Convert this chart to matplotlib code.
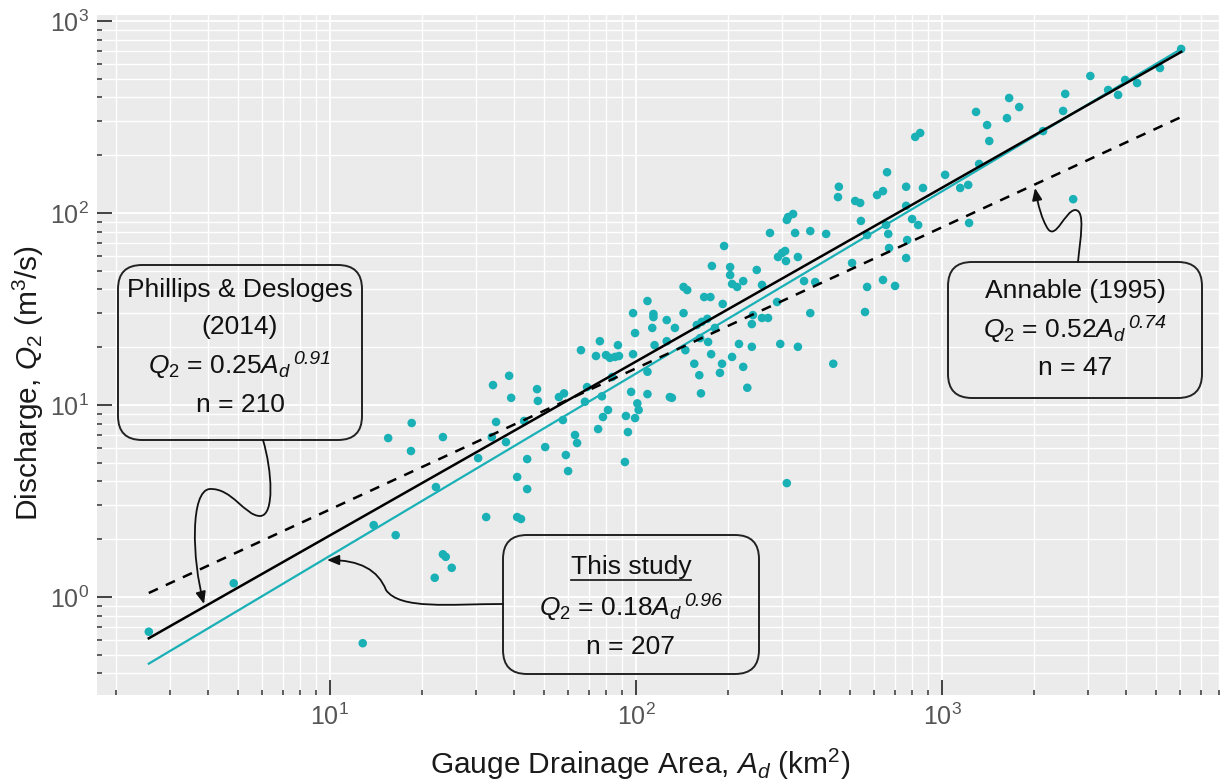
import numpy as np
import matplotlib
matplotlib.use("Agg")
import matplotlib.pyplot as plt
from matplotlib.patches import FancyBboxPatch, FancyArrowPatch
from matplotlib.path import Path
from matplotlib.lines import Line2D
from matplotlib.ticker import LogLocator, NullFormatter
from matplotlib.transforms import IdentityTransform

plt.rcParams['font.family'] = ['Liberation Sans', 'DejaVu Sans']
plt.rcParams['mathtext.fontset'] = 'custom'
plt.rcParams['mathtext.rm'] = 'Liberation Sans'
plt.rcParams['mathtext.it'] = 'Liberation Sans:italic'

# gauge drainage area (km2) and 2-yr discharge (m3/s)
area = [2.56, 4.85, 12.8, 13.9, 16.4,
        15.5, 18.5, 18.4, 23.4, 22.2, 30.5, 34.1, 34.9, 33.8, 37.6, 38.5, 39.1, 40.9, 44.1, 44.1,
        47.5, 47.8, 50.5, 56.0, 57.7, 59.0, 60.0, 63.2, 64.2, 66.1, 69.2, 68.1, 75.2, 74.0, 76.2,
        77.4, 78.0, 79.8, 81.0, 82.2, 85.4, 87.3, 88.0, 92.0, 92.7, 94.1, 96.4, 97.8, 97.8, 99.3,
        101, 102, 109, 109, 109, 113, 114, 114, 115, 126, 126, 129, 131, 134, 143, 143, 147, 145,
        32.4, 40.9, 42.1, 23.4, 23.9, 25.0, 22.0, 58.2, 43.1, 83.6,
        177, 203, 203, 248, 206, 214, 224, 258, 167, 175, 192, 99.3, 158, 164, 171, 181, 162, 172,
        176, 217, 239, 296, 338, 241, 258, 270, 239, 289, 354, 385, 371, 155, 161, 191, 188, 206,
        224, 231, 163, 311,
        194, 274, 311, 314, 326, 331, 371, 291, 300, 307, 309, 338,
        1656, 1786, 1629, 1291, 1403, 1426, 1321, 817, 848, 661, 763, 866, 1023, 1146, 1217, 1225,
        460, 457, 520, 540, 613, 641, 543, 763, 798, 835, 656, 667, 569, 418, 769, 671, 763, 508,
        641, 702, 569, 560,
        6040, 5150, 3050, 2525, 2485, 3487, 3962, 4336, 3758, 2137, 2681, 441]
discharge = [0.66, 1.18, 0.575, 2.37, 2.10,
             6.73, 8.06, 5.76, 6.81, 3.74, 5.29, 12.7, 8.16, 6.81, 6.41, 14.2, 10.9, 4.22, 3.65, 5.23,
             12.1, 10.5, 6.04, 11.0, 8.35, 5.49, 4.53, 6.98, 6.34, 19.3, 12.4, 10.4, 7.50, 18.0, 21.5,
             11.1, 8.66, 18.2, 9.42, 17.6, 17.8, 20.5, 18.0, 5.05, 8.77, 7.23, 11.7, 30.1, 18.4, 8.55,
             10.2, 9.42, 14.9, 11.4, 34.8, 25.2, 29.8, 28.7, 20.5, 27.7, 21.5, 11.0, 10.9, 25.2, 30.1, 41.2, 39.7, 19.3,
             2.61, 2.61, 2.55, 1.67, 1.62, 1.42, 1.26, 11.5, 8.26, 14.0,
             53.0, 52.3, 47.5, 50.5, 42.7, 41.2, 44.2, 42.2, 36.5, 36.5, 33.6, 23.7, 26.1, 27.1, 28.1, 25.2, 22.3, 21.3,
             18.4, 20.8, 20.1, 20.8, 20.1, 29.4, 28.4, 28.4, 26.4, 34.4, 44.2, 43.7, 30.1, 16.4, 14.3, 16.4, 14.7, 17.8,
             15.8, 12.3, 11.5, 3.92,
             67.3, 78.7, 92.0, 95.3, 98.8, 78.7, 80.5, 59.0, 61.9, 63.4, 56.2, 59.0,
             397, 356, 312, 336, 287, 237, 180, 249, 261, 163, 137, 135, 158, 135, 140, 88.7,
             137, 121, 115.5, 112.8, 124, 130, 90.9, 109, 93.0, 86.6, 86.6, 77.8, 76.8, 77.8, 72.3, 65.7, 58.3, 54.9,
             44.8, 41.7, 41.2, 30.5,
             715, 569, 517, 417, 340, 437, 493, 475, 412, 267, 118, 16.4]

# regression lines (end points)
fit_area = [2.56, 6040]
this_study_q = [0.45, 715]
phillips_q = [0.61, 690]
annable_q = [1.05, 316]

teal = '#19B0B6'
W, H = 1223, 780

fig = plt.figure(figsize=(W / 100, H / 100), dpi=100)
ax = fig.add_axes([97 / W, 1 - 695 / H, 1123 / W, 680 / H])
ax.set_facecolor('#EBEBEB')
ax.set_xscale('log')
ax.set_yscale('log')
ax.set_xlim(1.734, 8090)
ax.set_ylim(0.309, 1074)
for s in ax.spines.values():
    s.set_visible(False)

for axis in (ax.xaxis, ax.yaxis):
    axis.set_major_locator(LogLocator(base=10, numticks=10))
    axis.set_minor_locator(LogLocator(base=10, subs=np.arange(2, 10), numticks=20))
    axis.set_minor_formatter(NullFormatter())

ax.grid(True, which='major', color='white', lw=1.3)
ax.grid(True, which='minor', color='white', lw=1.0)
ax.set_axisbelow(True)
ax.tick_params(which='major', direction='in', length=11, width=1.3, color='#333333',
               labelsize=18, labelcolor='#555555', pad=6)
ax.tick_params(which='minor', direction='in', length=3.5, width=1.1, color='#333333')
ax.tick_params(axis='x', which='major', pad=6)

ax.scatter(area, discharge, s=38, color=teal, edgecolors='none', zorder=3)
ax.plot(fit_area, this_study_q, color=teal, lw=1.6, zorder=4)
ax.plot(fit_area, phillips_q, color='black', lw=1.8, zorder=4)
ax.plot(fit_area, annable_q, color='black', lw=1.8, ls=(0, (4, 3.5)), zorder=4)

ax.set_xlabel(r'Gauge Drainage Area, $\mathit{A_d}$ (km$^2$)', fontsize=21.5, color='#1a1a1a')
ax.set_ylabel(r'Discharge, $\mathit{Q}_2$ (m$^3$/s)', fontsize=21.5, color='#1a1a1a')
ax.xaxis.set_label_coords(0.4835, -0.076)
ax.yaxis.set_label_coords(-0.045, 0.459)


def px(x, y):
    return (x, H - y)


def box(x0, y0, x1, y1):
    p = FancyBboxPatch(px(x0, y1), x1 - x0, y1 - y0,
                       boxstyle='round,pad=0,rounding_size=24',
                       fc='none', ec='#222222', lw=1.4, transform=IdentityTransform())
    fig.add_artist(p)


def label(x, y, s):
    return fig.text(x / W, 1 - y / H, s, ha='center', va='center', fontsize=19, color='#111111')


equations = []


def equation(x, y, base, exp):
    m = fig.text(x / W, 1 - y / H, base, ha='left', va='center', fontsize=19, color='#111111')
    e = fig.text(x / W, 1 - y / H, exp, ha='left', va='baseline', fontsize=14,
                 style='italic', color='#111111')
    equations.append((x, m, e))


def arrow(points):
    verts = [px(*points[0])]
    codes = [Path.MOVETO]
    for p in points[1:]:
        verts.append(px(*p))
        codes.append(Path.CURVE4)
    a = FancyArrowPatch(path=Path(verts, codes), arrowstyle='-|>,head_length=0.6,head_width=0.25',
                        mutation_scale=12, lw=1.3, color='#111111', transform=IdentityTransform())
    fig.add_artist(a)


# Phillips & Desloges
box(118, 265, 362, 440)
label(240, 290, 'Phillips & Desloges')
label(240, 327, '(2014)')
equation(240, 366, r'$Q_2$ = 0.25$A_d$', '0.91')
label(240, 405, 'n = 210')
arrow([(263, 440), (272, 470), (275, 516), (260, 516),
       (245, 516), (232, 488), (210, 489),
       (190, 490), (192, 560), (204, 604)])

# Annable
box(948, 262, 1202, 398)
label(1075, 291, 'Annable (1995)')
equation(1075, 330, r'$Q_2$ = 0.52$A_d$', '0.74')
label(1075, 368, 'n = 47')
arrow([(1078, 262), (1080, 240), (1086, 210), (1075, 210),
       (1065, 211), (1056, 240), (1048, 229),
       (1042, 220), (1038, 205), (1035, 188)])

# This study
box(503, 535, 759, 674)
t = label(631, 567, 'This study')
equation(631, 608, r'$Q_2$ = 0.18$A_d$', '0.96')
label(631, 647, 'n = 207')
arrow([(503, 604), (450, 604), (400, 610), (386, 590),
       (378, 570), (360, 560), (327, 560)])

fig.canvas.draw()
r = fig.canvas.get_renderer()
for cx, m, e in equations:
    bm = m.get_window_extent(r)
    be = e.get_window_extent(r)
    gap = 2
    left = cx - (bm.width + gap + be.width) / 2
    m.set_x(left / W)
    e.set_position(((left + bm.width + gap) / W, (bm.y1 - 11) / H))

bb = t.get_window_extent(r)
fig.add_artist(Line2D([bb.x0, bb.x1], [bb.y0 - 1, bb.y0 - 1], color='#111111', lw=1.2,
                      transform=IdentityTransform()))

fig.savefig('out.png', dpi=100, facecolor='white')
